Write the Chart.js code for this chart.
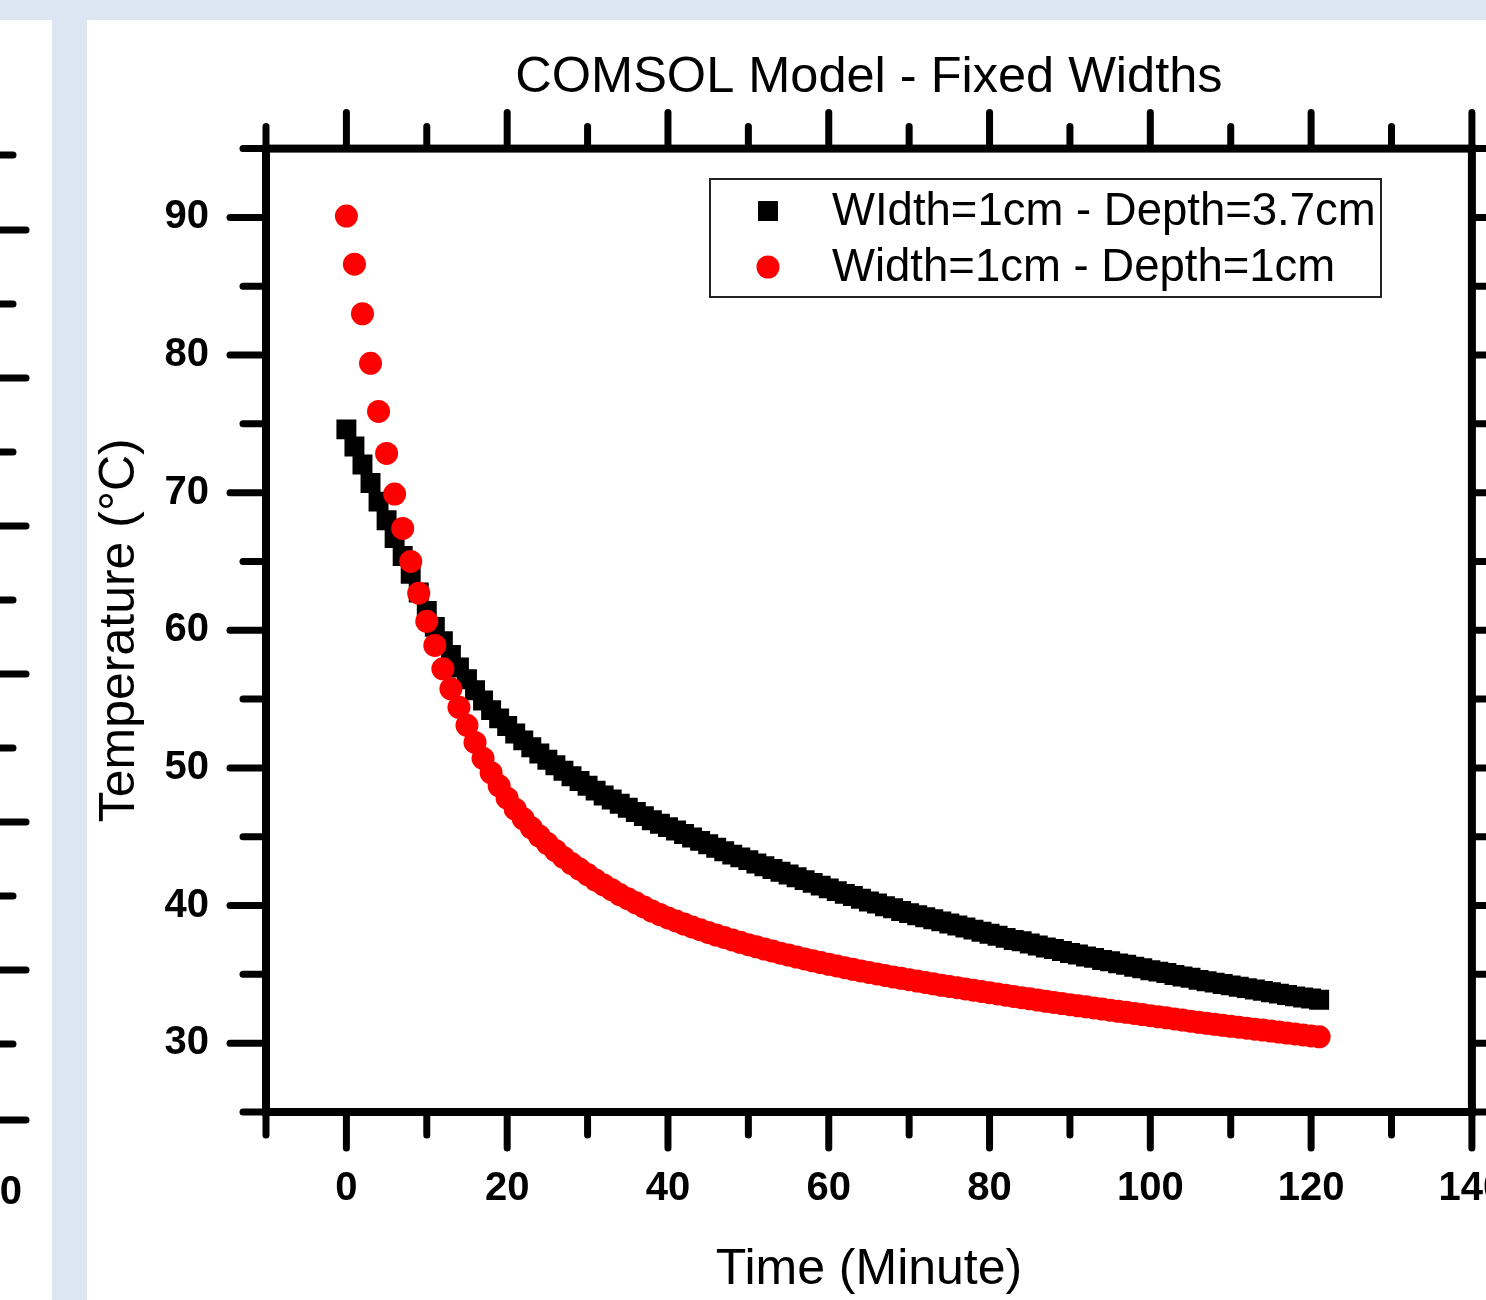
<!DOCTYPE html>
<html>
<head>
<meta charset="utf-8">
<title>COMSOL Model - Fixed Widths</title>
<script src="https://cdn.jsdelivr.net/npm/chart.js@4.4.1/dist/chart.umd.min.js"></script>
<style>
  html, body { margin: 0; padding: 0; background: #dce6f2; }
  #wrap { position: relative; width: 1486px; height: 1300px; overflow: hidden; }
  #chart { position: absolute; left: 0; top: 0; }
</style>
</head>
<body>
<div id="wrap"><canvas id="chart" width="1486" height="1300"></canvas></div>
<script>
// time in minutes (one sample per minute)
const minutes = [
  0, 1, 2, 3, 4, 5, 6, 7, 8, 9, 10, 11, 12, 13, 14, 15, 16, 17, 18, 19,
  20, 21, 22, 23, 24, 25, 26, 27, 28, 29, 30, 31, 32, 33, 34, 35, 36, 37, 38, 39,
  40, 41, 42, 43, 44, 45, 46, 47, 48, 49, 50, 51, 52, 53, 54, 55, 56, 57, 58, 59,
  60, 61, 62, 63, 64, 65, 66, 67, 68, 69, 70, 71, 72, 73, 74, 75, 76, 77, 78, 79,
  80, 81, 82, 83, 84, 85, 86, 87, 88, 89, 90, 91, 92, 93, 94, 95, 96, 97, 98, 99,
  100, 101, 102, 103, 104, 105, 106, 107, 108, 109, 110, 111, 112, 113, 114, 115, 116, 117, 118, 119,
  120, 121
];

// Width=1cm - Depth=3.7cm (black squares)
const depth37 = [
  74.6, 73.35, 72.05, 70.7, 69.35, 68.0, 66.7, 65.4, 64.1, 62.75,
  61.4, 60.25, 59.2, 58.2, 57.3, 56.45, 55.65, 54.9, 54.2, 53.6,
  53.05, 52.5, 52.0, 51.5, 51.05, 50.6, 50.2, 49.8, 49.4, 49.05,
  48.7, 48.35, 48.0, 47.7, 47.4, 47.1, 46.8, 46.5, 46.2, 45.95,
  45.7, 45.45, 45.2, 44.95, 44.7, 44.45, 44.2, 43.95, 43.7, 43.5,
  43.3, 43.05, 42.85, 42.65, 42.45, 42.25, 42.05, 41.85, 41.65, 41.45,
  41.25, 41.05, 40.85, 40.7, 40.5, 40.3, 40.15, 39.95, 39.8, 39.6,
  39.45, 39.3, 39.15, 39.0, 38.85, 38.7, 38.55, 38.4, 38.25, 38.1,
  37.95, 37.8, 37.65, 37.5, 37.4, 37.25, 37.1, 36.95, 36.85, 36.7,
  36.55, 36.45, 36.3, 36.2, 36.05, 35.95, 35.8, 35.7, 35.55, 35.45,
  35.3, 35.2, 35.1, 34.95, 34.85, 34.75, 34.6, 34.5, 34.4, 34.3,
  34.2, 34.1, 34.0, 33.9, 33.8, 33.7, 33.6, 33.5, 33.4, 33.32,
  33.24, 33.16
];

// Width=1cm - Depth=1cm (red circles)
const depth1 = [
  90.1, 86.6, 83.0, 79.4, 75.9, 72.85, 69.9, 67.4, 65.0, 62.7,
  60.65, 58.9, 57.2, 55.75, 54.4, 53.1, 51.85, 50.7, 49.65, 48.7,
  47.8, 47.0, 46.3, 45.65, 45.05, 44.5, 44.0, 43.5, 43.05, 42.65,
  42.25, 41.85, 41.5, 41.15, 40.8, 40.5, 40.2, 39.9, 39.6, 39.35,
  39.1, 38.88, 38.66, 38.45, 38.25, 38.05, 37.86, 37.68, 37.5, 37.33,
  37.16, 37.0, 36.84, 36.69, 36.54, 36.4, 36.26, 36.12, 35.99, 35.86,
  35.73, 35.61, 35.49, 35.37, 35.25, 35.14, 35.03, 34.92, 34.81, 34.71,
  34.61, 34.51, 34.41, 34.31, 34.21, 34.12, 34.03, 33.94, 33.85, 33.76,
  33.67, 33.58, 33.49, 33.4, 33.31, 33.22, 33.13, 33.04, 32.96, 32.88,
  32.8, 32.72, 32.64, 32.56, 32.48, 32.4, 32.32, 32.24, 32.16, 32.08,
  32.0, 31.92, 31.84, 31.76, 31.68, 31.6, 31.52, 31.44, 31.37, 31.3,
  31.23, 31.16, 31.09, 31.02, 30.95, 30.88, 30.81, 30.74, 30.67, 30.6,
  30.53, 30.46
];

const seriesLabels = ['WIdth=1cm - Depth=3.7cm', 'Width=1cm - Depth=1cm'];

const xMajor = [0, 20, 40, 60, 80, 100, 120, 140];
const xMinor = [-10, 10, 30, 50, 70, 90, 110, 130];
const yMajor = [30, 40, 50, 60, 70, 80, 90];
const yMinor = [25, 35, 45, 55, 65, 75, 85, 95];

// tick marks of the neighbouring figure peeking in on the left
const sideTickY = [155, 230, 304, 378, 452, 526, 600, 674, 748, 822, 896, 970, 1044, 1120];

const FONT = '"Liberation Sans", Arial, sans-serif';

const toPoints = ys => minutes.map((t, i) => ({ x: t, y: ys[i] }));

const pagePlugin = {
    id: 'page',
    beforeDraw(chart) {
        const ctx = chart.ctx;
        ctx.save();
        ctx.fillStyle = '#dce6f2';
        ctx.fillRect(0, 0, chart.width, chart.height);
        ctx.fillStyle = '#ffffff';
        ctx.fillRect(0, 20, 52, chart.height - 20);
        ctx.fillRect(87, 20, chart.width - 87, chart.height - 20);

        // left strip: cut-off right axis of the previous figure
        ctx.strokeStyle = '#000';
        ctx.lineWidth = 7;
        ctx.lineCap = 'round';
        sideTickY.forEach((y, i) => {
            const len = i % 2 === 0 ? 23 : 36;
            ctx.beginPath();
            ctx.moveTo(-10, y);
            ctx.lineTo(-10 + len, y);
            ctx.stroke();
        });
        ctx.fillStyle = '#000';
        ctx.font = 'bold 40px ' + FONT;
        ctx.textAlign = 'right';
        ctx.textBaseline = 'middle';
        ctx.fillText('140', 22, 1193);
        ctx.restore();
    }
};

const framePlugin = {
    id: 'frame',
    afterDraw(chart) {
        const { ctx, chartArea: a, scales } = chart;
        const xs = scales.x, ys = scales.y;
        ctx.save();
        ctx.strokeStyle = '#000';
        ctx.lineWidth = 7;
        ctx.lineCap = 'round';

        const tick = (x1, y1, x2, y2) => {
            ctx.beginPath();
            ctx.moveTo(x1, y1);
            ctx.lineTo(x2, y2);
            ctx.stroke();
        };

        xMajor.forEach(v => {
            const px = xs.getPixelForValue(v);
            tick(px, a.bottom, px, a.bottom + 36);
            tick(px, a.top, px, a.top - 36);
        });
        xMinor.forEach(v => {
            const px = xs.getPixelForValue(v);
            tick(px, a.bottom, px, a.bottom + 23);
            tick(px, a.top, px, a.top - 22);
        });
        yMajor.forEach(v => {
            const py = ys.getPixelForValue(v);
            tick(a.left, py, a.left - 36, py);
            tick(a.right, py, a.right + 36, py);
        });
        yMinor.forEach(v => {
            const py = ys.getPixelForValue(v);
            tick(a.left, py, a.left - 23, py);
            tick(a.right, py, a.right + 23, py);
        });

        ctx.lineCap = 'butt';
        ctx.lineWidth = 8;
        ctx.strokeRect(a.left, a.top, a.right - a.left, a.bottom - a.top);
        ctx.restore();
    }
};

const legendPlugin = {
    id: 'boxLegend',
    afterDraw(chart) {
        const ctx = chart.ctx;
        const box = { x: 710, y: 179, w: 671, h: 118 };
        ctx.save();
        ctx.fillStyle = '#fff';
        ctx.fillRect(box.x, box.y, box.w, box.h);
        ctx.strokeStyle = '#222';
        ctx.lineWidth = 2;
        ctx.strokeRect(box.x, box.y, box.w, box.h);

        ctx.font = '45.5px ' + FONT;
        ctx.textAlign = 'left';
        ctx.textBaseline = 'middle';
        chart.data.datasets.forEach((ds, i) => {
            const cy = box.y + 32 + i * 56;
            const cx = box.x + 58;
            ctx.fillStyle = ds.backgroundColor;
            if (ds.pointStyle === 'rect') {
                const s = ds.pointRadius * Math.SQRT1_2;
                ctx.fillRect(cx - s, cy - s, 2 * s, 2 * s);
            } else {
                ctx.beginPath();
                ctx.arc(cx, cy, ds.pointRadius, 0, Math.PI * 2);
                ctx.fill();
            }
            ctx.fillStyle = '#000';
            ctx.fillText(ds.label, box.x + 122, cy + 1);
        });
        ctx.restore();
    }
};

new Chart(document.getElementById('chart'), {
    type: 'scatter',
    data: {
        datasets: [
            {
                label: seriesLabels[0],
                data: toPoints(depth37),
                pointStyle: 'rect',
                pointRadius: 14.1,
                pointBorderWidth: 0,
                backgroundColor: '#000000',
                borderColor: '#000000',
                order: 2
            },
            {
                label: seriesLabels[1],
                data: toPoints(depth1),
                pointStyle: 'circle',
                pointRadius: 11.5,
                pointBorderWidth: 0,
                backgroundColor: '#ff0000',
                borderColor: '#ff0000',
                order: 1
            }
        ]
    },
    options: {
        responsive: false,
        animation: false,
        devicePixelRatio: 1,
        layout: { padding: { top: 20, left: 0, right: 12, bottom: 0 } },
        plugins: {
            legend: { display: false },
            tooltip: { enabled: false },
            title: {
                display: true,
                fullSize: false,
                text: 'COMSOL Model - Fixed Widths',
                color: '#000',
                font: { family: FONT, size: 50.5, weight: 'normal' },
                padding: { top: 28, bottom: 40 }
            }
        },
        scales: {
            x: {
                type: 'linear',
                position: 'bottom',
                min: -10,
                max: 140,
                grid: { display: false, drawTicks: false },
                border: { display: false },
                afterBuildTicks: scale => {
                    scale.ticks = xMajor.map(v => ({ value: v }));
                },
                afterFit: scale => {
                    scale.height = 188;
                    scale.paddingLeft = 0;
                    scale.paddingRight = 0;
                },
                ticks: {
                    color: '#000',
                    padding: 53,
                    maxRotation: 0,
                    autoSkip: false,
                    font: { family: FONT, size: 40, weight: 'bold' }
                },
                title: {
                    display: true,
                    text: 'Time (Minute)',
                    color: '#000',
                    font: { family: FONT, size: 50, weight: 'normal' },
                    padding: { top: 0, bottom: 0 }
                }
            },
            y: {
                type: 'linear',
                position: 'left',
                min: 25,
                max: 95,
                grid: { display: false, drawTicks: false },
                border: { display: false },
                afterBuildTicks: scale => {
                    scale.ticks = yMajor.map(v => ({ value: v }));
                },
                afterFit: scale => {
                    scale.width = 266;
                    scale.paddingTop = 0;
                    scale.paddingBottom = 0;
                },
                ticks: {
                    color: '#000',
                    padding: 57,
                    autoSkip: false,
                    font: { family: FONT, size: 40, weight: 'bold' }
                },
                title: {
                    display: true,
                    text: 'Temperature (°C)',
                    color: '#000',
                    font: { family: FONT, size: 50, weight: 'normal' },
                    padding: { top: 90, bottom: 0 }
                }
            }
        }
    },
    plugins: [pagePlugin, framePlugin, legendPlugin]
});
</script>
</body>
</html>
